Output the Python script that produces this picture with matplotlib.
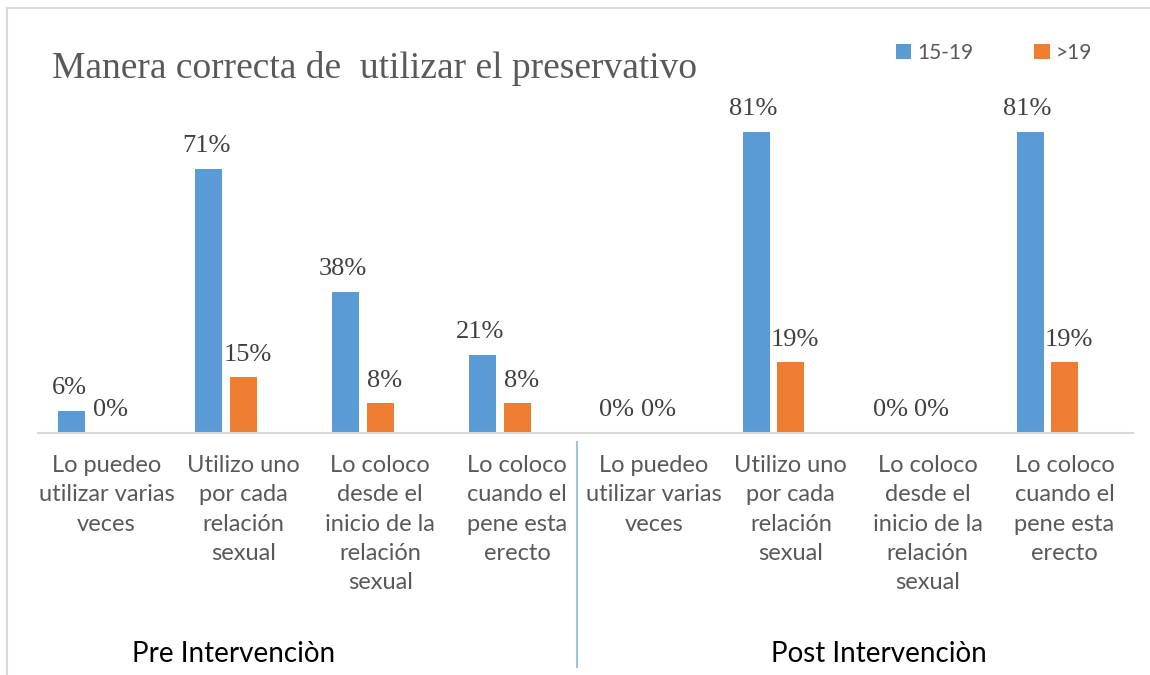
import numpy as np
import matplotlib.pyplot as plt
from matplotlib.lines import Line2D
import matplotlib.transforms as mtransforms

# data
categories = ["Lo puedeo\nutilizar varias\nveces",
              "Utilizo uno\npor cada\nrelación\nsexual",
              "Lo coloco\ndesde el\ninicio de la\nrelación\nsexual",
              "Lo coloco\ncuando el\npene esta\nerecto"] * 2
groups = ["Pre Intervenciòn", "Post Intervenciòn"]
series_names = ["15-19", ">19"]
young = [6, 71, 38, 21, 0, 81, 0, 81]
older = [0, 15, 8, 8, 0, 19, 0, 19]

BLUE = '#5B9BD5'
ORANGE = '#ED7D31'
SANS = ['Lato', 'DejaVu Sans']
SERIF = ['Liberation Serif', 'DejaVu Serif']

W, H = 1150, 675
fig = plt.figure(figsize=(W / 100, H / 100), dpi=100)
ax = fig.add_axes([38 / W, (H - 433) / H, (1133 - 38) / W, 371.6 / H])

x = np.arange(len(categories))
step, width = 0.252, 0.197
b1 = ax.bar(x - step, young, width, color=BLUE, label=series_names[0])
b2 = ax.bar(x, older, width, color=ORANGE, label=series_names[1])

for bars, vals, dx in ((b1, young, -2), (b2, older, 3)):
    for rect, v in zip(bars, vals):
        ax.annotate('{}%'.format(v),
                    (rect.get_x() + rect.get_width() / 2, v),
                    xytext=(dx, 12), textcoords='offset points',
                    ha='center', va='baseline', fontsize=19,
                    family=SERIF, color='#404040')

ax.set_xlim(-0.5, len(categories) - 0.5)
ax.set_ylim(0, 100)
ax.set_yticks([])
for s in ('left', 'right', 'top'):
    ax.spines[s].set_visible(False)
ax.spines['bottom'].set_color('#D9D9D9')
ax.spines['bottom'].set_linewidth(1.5)
ax.set_xticks(x)
ax.set_xticklabels(categories, family=SANS, fontsize=17, color='#595959',
                   linespacing=1.48)
ax.tick_params(axis='x', length=0, pad=16)

# separator between pre / post
trans = mtransforms.blended_transform_factory(ax.transData, ax.transAxes)
ax.add_line(Line2D([3.44, 3.44], [-0.025, -0.63], transform=trans,
                   color='#9DC3E6', lw=1.5, clip_on=False))

fig.text(234 / W, 1 - 662 / H, groups[0], ha='center', va='baseline',
         fontsize=20, family=SANS, color='black')
fig.text(879 / W, 1 - 662 / H, groups[1], ha='center', va='baseline',
         fontsize=20, family=SANS, color='black')

fig.text(52 / W, 1 - 78 / H, 'Manera correcta de  utilizar el preservativo',
         ha='left', va='baseline', fontsize=27, family=SERIF, color='#595959')

leg = fig.legend(handles=[b1, b2], loc='center left',
                 bbox_to_anchor=(877 / W, 1 - 53 / H), ncol=2, frameon=False,
                 handlelength=0.75, handleheight=0.75, handletextpad=0.3,
                 columnspacing=2.9, prop={'family': SANS, 'size': 15})
for t in leg.get_texts():
    t.set_color('#595959')

# outer frame (left and top only)
fig.add_artist(Line2D([7 / W, 7 / W], [0, 1 - 8 / H], color='#D9D9D9', lw=1.5))
fig.add_artist(Line2D([7 / W, 1], [1 - 8 / H, 1 - 8 / H], color='#D9D9D9', lw=1.5))

fig.savefig('out.png', dpi=100)
